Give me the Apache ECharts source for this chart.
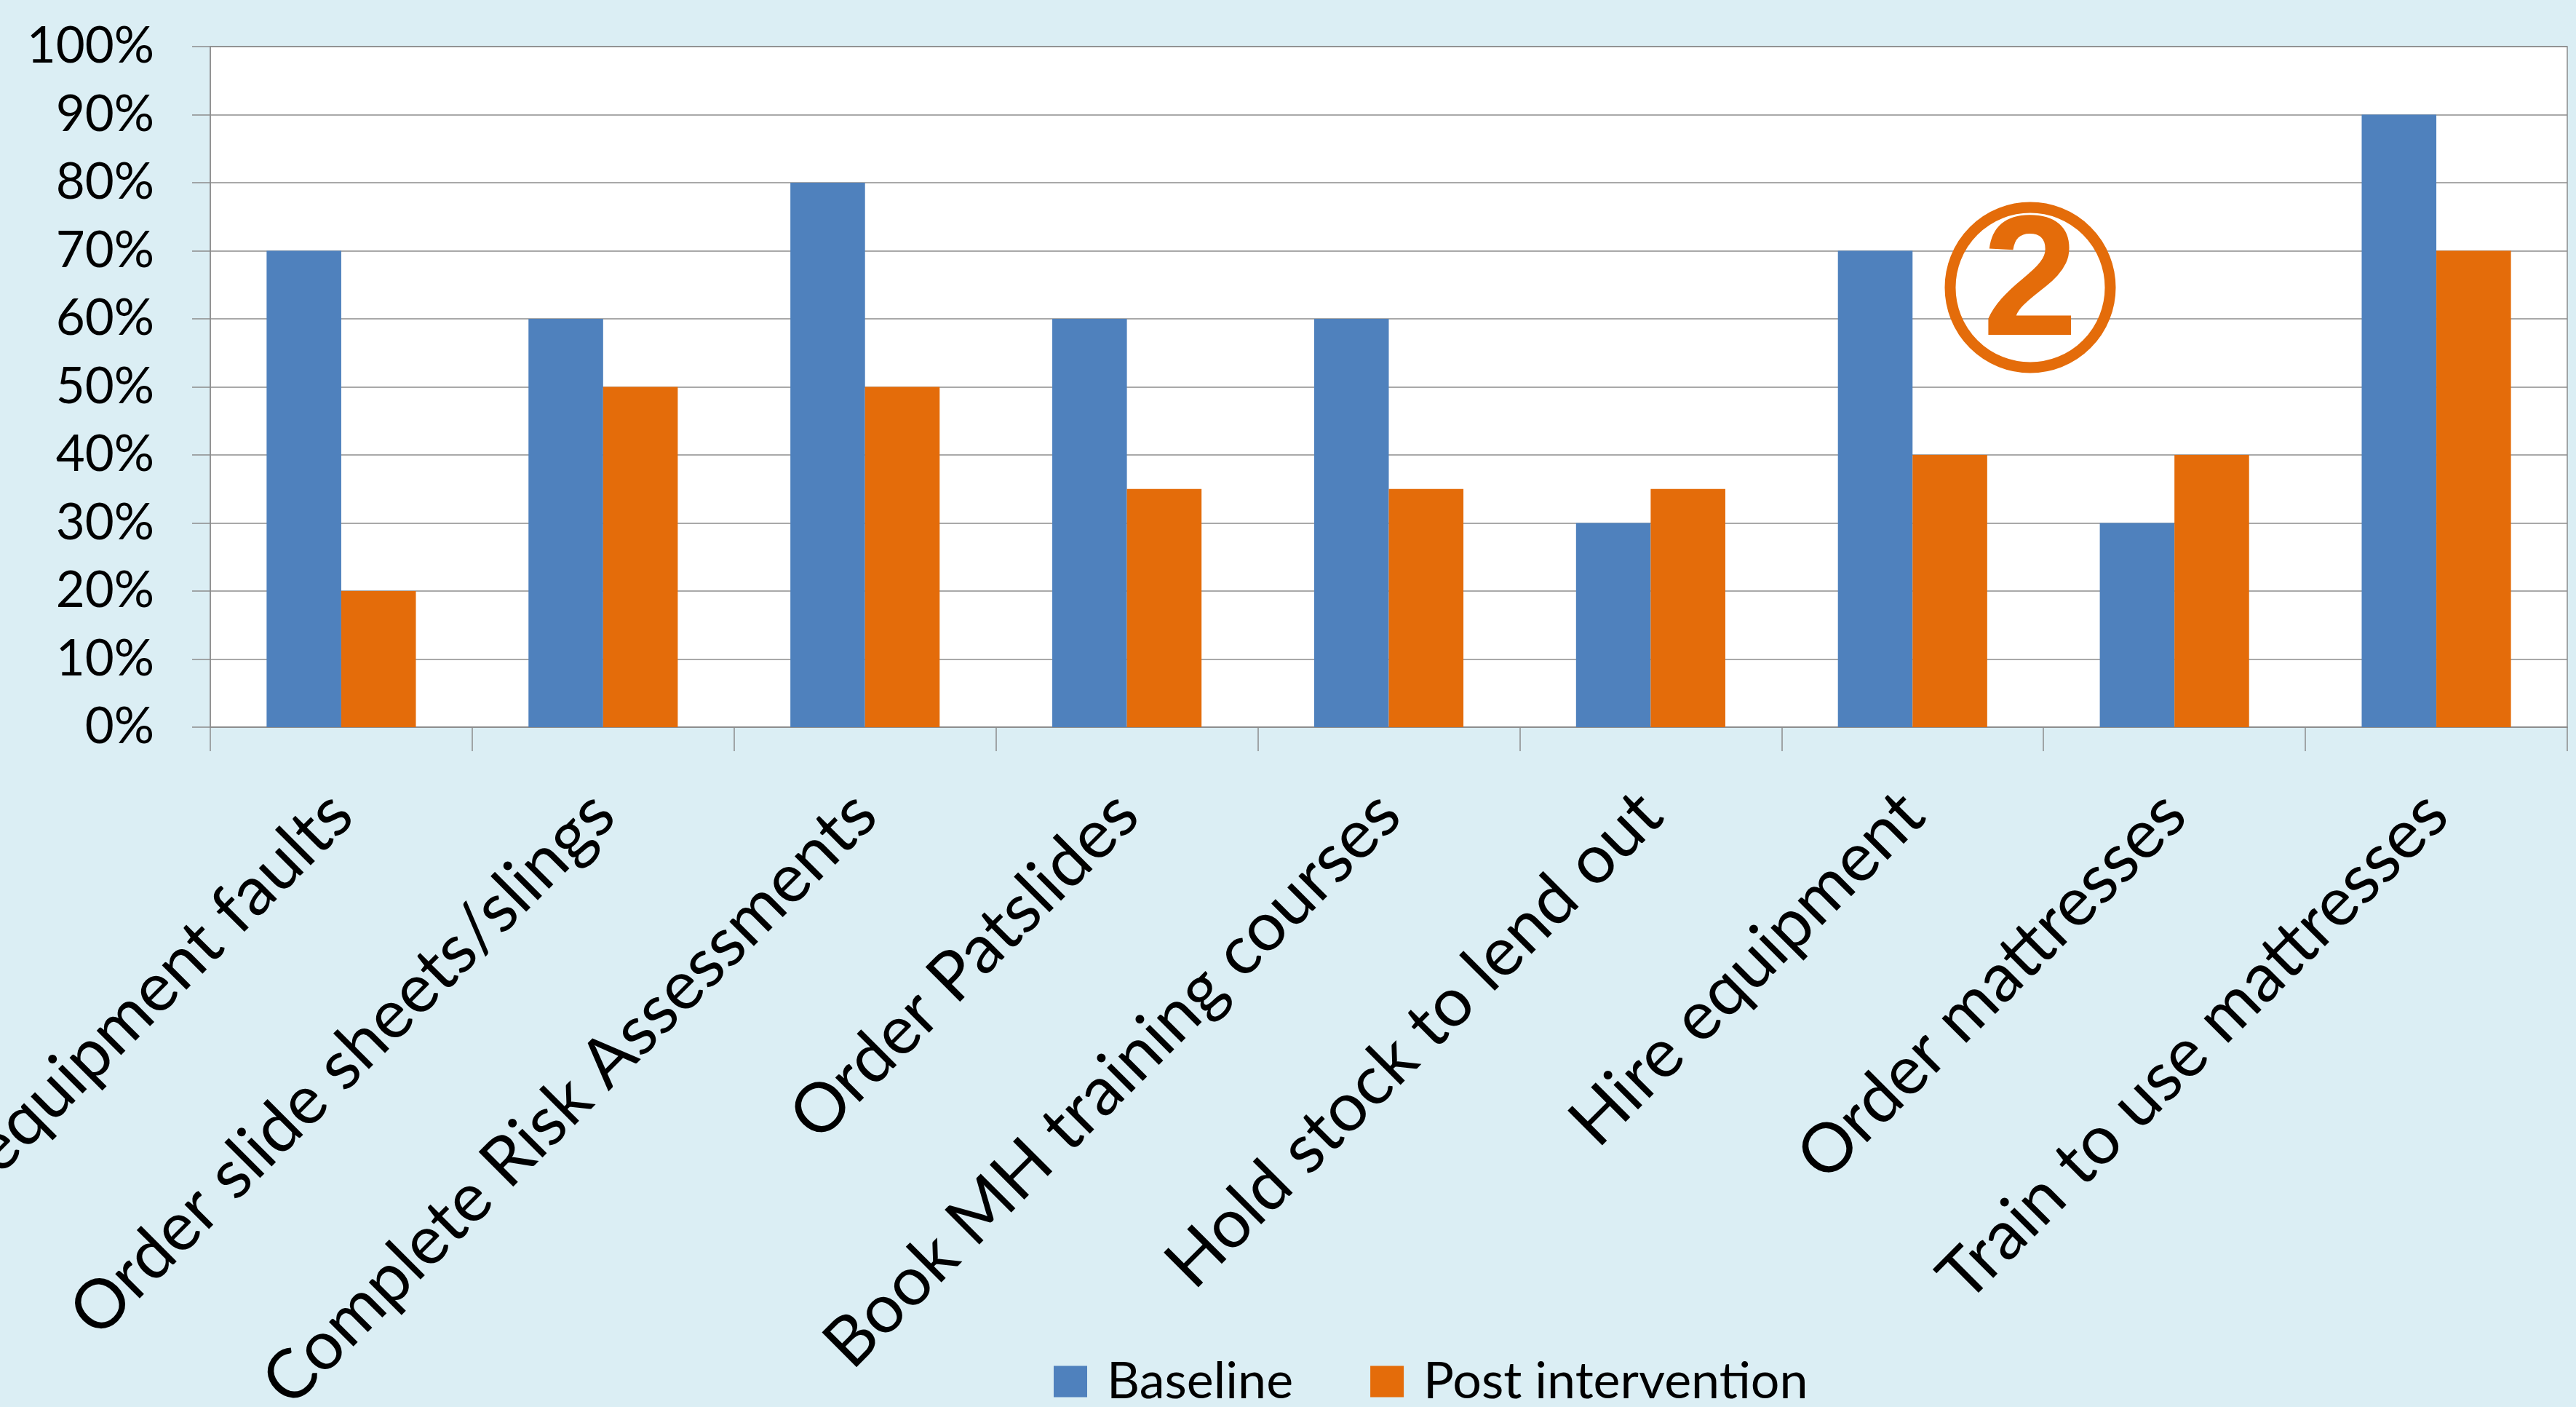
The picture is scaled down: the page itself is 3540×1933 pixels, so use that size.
<!DOCTYPE html>
<html>
<head>
<meta charset="utf-8">
<script src="https://cdn.jsdelivr.net/npm/echarts@6/dist/echarts.min.js"></script>
<style>
html,body{margin:0;padding:0;background:#DBEEF4;}
#c{width:3540px;height:1933px;}
</style>
</head>
<body>
<div id="c"></div>
<script>
var categories = ["Report equipment faults","Order slide sheets/slings","Complete Risk Assessments","Order Patslides","Book MH training courses","Hold stock to lend out","Hire equipment","Order mattresses","Train to use mattresses"];
var baseline = [70, 60, 80, 60, 60, 30, 70, 30, 90];
var postIntervention = [20, 50, 50, 35, 35, 35, 40, 40, 70];
var seriesNames = ["Baseline", "Post intervention"];
var annotationText = "2";

var FONT = "Lato";
var chart = echarts.init(document.getElementById('c'), null, {renderer:'canvas'});
chart.setOption({
  backgroundColor: '#DBEEF4',
  animation: false,
  grid: {left: 289, right: 12, top: 64, bottom: 934, containLabel: false, outerBoundsMode: 'none', show: true, backgroundColor: '#FFFFFF', borderColor: '#8C8C8C', borderWidth: 1.5},
  legend: {
    data: seriesNames,
    left: 1443, top: 1858,
    itemWidth: 46, itemHeight: 43, itemGap: 106,
    icon: 'rect',
    textStyle: {fontFamily: FONT, fontSize: 70, color: '#000', padding: [0,0,0,22]}
  },
  xAxis: {
    type: 'category', data: categories,
    axisLine: {lineStyle: {color: '#8C8C8C', width: 1.5}},
    axisTick: {show: true, length: 33, alignWithLabel: false, lineStyle: {color: '#8C8C8C', width: 1.5}},
    axisLabel: {rotate: 45, interval: 0, margin: 105, fontFamily: FONT, fontSize: 94, color: '#000', hideOverlap: false}
  },
  yAxis: {
    type: 'value', min: 0, max: 100, interval: 10,
    axisLine: {show: true, lineStyle: {color: '#8C8C8C', width: 1.5}},
    axisTick: {show: true, length: 25, lineStyle: {color: '#8C8C8C', width: 1.5}},
    splitLine: {lineStyle: {color: '#8C8C8C', width: 1.5}},
    axisLabel: {formatter: '{value}%', margin: 77, fontFamily: FONT, fontSize: 69, color: '#000'}
  },
  series: [
    {name: seriesNames[0], type: 'bar', data: baseline, barGap: '0%', barCategoryGap: '43%', itemStyle: {color: '#4F81BD'}},
    {name: seriesNames[1], type: 'bar', data: postIntervention, barGap: '0%', barCategoryGap: '43%', itemStyle: {color: '#E46C0A'}}
  ],
  graphic: [
    {type: 'circle', shape: {cx: 2790, cy: 395, r: 110}, style: {fill: 'none', stroke: '#E46C0A', lineWidth: 15}, z: 100},
    {type: 'text', x: 2790, y: 395, style: {text: annotationText, fill: '#E46C0A', font: 'bold 236px "Liberation Sans"', textAlign: 'center', textVerticalAlign: 'middle'}, z: 100}
  ]
});
</script>
</body>
</html>
